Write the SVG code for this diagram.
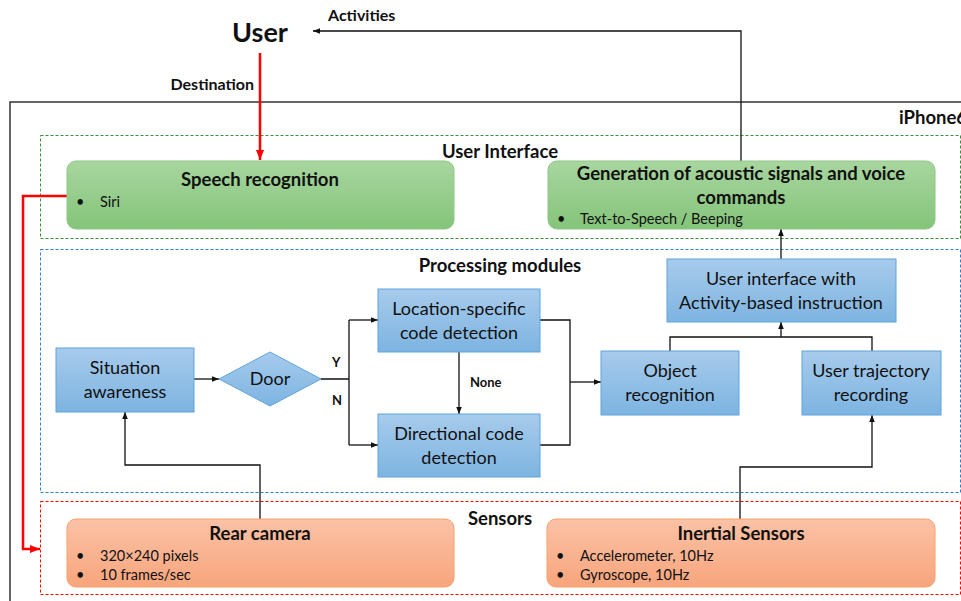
<svg xmlns="http://www.w3.org/2000/svg" width="961" height="601" viewBox="0 0 961 601">
  <defs>
    <linearGradient id="gBlue" x1="0" y1="0" x2="0" y2="1">
      <stop offset="0" stop-color="#a7cbec"/>
      <stop offset="1" stop-color="#7db4e1"/>
    </linearGradient>
    <linearGradient id="gGreen" x1="0" y1="0" x2="0" y2="1">
      <stop offset="0" stop-color="#a8d69f"/>
      <stop offset="1" stop-color="#84c47a"/>
    </linearGradient>
    <linearGradient id="gOrange" x1="0" y1="0" x2="0" y2="1">
      <stop offset="0" stop-color="#fbc2a6"/>
      <stop offset="1" stop-color="#f8a57c"/>
    </linearGradient>
    <marker id="arrK" viewBox="0 0 10 10" refX="10" refY="5" markerWidth="7" markerHeight="7" orient="auto" markerUnits="userSpaceOnUse">
      <path d="M0,1 L10,5 L0,9 Z" fill="#111"/>
    </marker>
    <marker id="arrR" viewBox="0 0 10 10" refX="10" refY="5" markerWidth="10" markerHeight="10" orient="auto" markerUnits="userSpaceOnUse">
      <path d="M0,1 L10,5 L0,9 Z" fill="#ff0000"/>
    </marker>
  </defs>
  <style>
    text { font-family: Lato, "Liberation Sans", sans-serif; fill: #111; }
    .b { font-weight: bold; }
    .hd { font-size: 18.5px; font-weight: bold; text-anchor: middle; }
    .lbl { font-size: 16px; font-weight: bold; }
    .nt { font-size: 18px; text-anchor: middle; }
    .bul { font-size: 14.5px; }
    .blue { fill: url(#gBlue); stroke: #5fa3dc; stroke-width: 1; }
    .green { fill: url(#gGreen); stroke: #8cc883; stroke-width: 1; }
    .orange { fill: url(#gOrange); stroke: #f4a06c; stroke-width: 1; }
    .zone { fill: none; stroke-width: 1; stroke-dasharray: 3 2; }
    .wire { fill: none; stroke: #111; stroke-width: 1.3; }
    .red { fill: none; stroke: #ff0000; stroke-width: 2.5; }
  </style>
  <rect width="961" height="601" fill="#fff"/>

  <!-- device frame -->
  <g id="iphone">
    <path d="M10,601 V102 H961" fill="none" stroke="#333" stroke-width="1.5"/>
    <text x="899" y="124" class="b" font-size="18.5">iPhone6</text>
  </g>

  <!-- zones -->
  <g id="zone-ui">
    <rect x="40.5" y="135.5" width="920" height="103" class="zone" stroke="#3b8f3b"/>
    <text x="500" y="158" class="hd">User Interface</text>
  </g>
  <g id="zone-proc">
    <rect x="40.5" y="249.5" width="920" height="243" class="zone" stroke="#2e80d0"/>
    <text x="500" y="272" class="hd">Processing modules</text>
  </g>
  <g id="zone-sensors">
    <rect x="40.5" y="501.5" width="920" height="93" class="zone" stroke="#ff0000"/>
    <text x="500" y="525" class="hd">Sensors</text>
  </g>

  <!-- user -->
  <g id="user">
    <text x="260" y="42" class="b" font-size="27" text-anchor="middle">User</text>
  </g>

  <!-- connectors -->
  <g id="connectors">
    <path d="M741,161 V31 H313" class="wire" marker-end="url(#arrK)"/>
    <text x="328" y="21" class="lbl">Activities</text>
    <path d="M260,53 V160" class="red" marker-end="url(#arrR)"/>
    <text x="254" y="90" class="lbl" text-anchor="end">Destination</text>
    <path d="M67,196 H23 V549 H40" class="red" marker-end="url(#arrR)"/>

    <path d="M194,379 H219" class="wire" marker-end="url(#arrK)"/>
    <path d="M321,379 H349 M349,320 V445" class="wire"/>
    <path d="M349,320 H378" class="wire" marker-end="url(#arrK)"/>
    <path d="M349,445 H378" class="wire" marker-end="url(#arrK)"/>
    <text x="332" y="367" class="b" font-size="13">Y</text>
    <text x="332" y="405" class="b" font-size="13">N</text>

    <path d="M459,352 V414" class="wire" marker-end="url(#arrK)"/>
    <text x="470" y="387" class="b" font-size="13">None</text>

    <path d="M540,320 H570 V445 H540" class="wire"/>
    <path d="M570,382 H601" class="wire" marker-end="url(#arrK)"/>

    <path d="M670,351 V337 H872 V351" class="wire"/>
    <path d="M781,337 V322" class="wire" marker-end="url(#arrK)"/>
    <path d="M781,259 V229" class="wire" marker-end="url(#arrK)"/>

    <path d="M260,519 V465 H125 V412" class="wire" marker-end="url(#arrK)"/>
    <path d="M740,519 V467 H872 V415" class="wire" marker-end="url(#arrK)"/>
  </g>

  <!-- user interface nodes -->
  <g id="speech">
    <rect x="67" y="161" width="387" height="68" rx="9" class="green"/>
    <text x="260" y="186" class="hd">Speech recognition</text>
    <text x="76" y="207" class="bul">•</text>
    <text x="100" y="207" class="bul">Siri</text>
  </g>
  <g id="acoustic">
    <rect x="548" y="161" width="387" height="68" rx="9" class="green"/>
    <text x="741" y="180" class="hd">Generation of acoustic signals and voice</text>
    <text x="741" y="204" class="hd">commands</text>
    <text x="557" y="224" class="bul">•</text>
    <text x="580" y="224" class="bul">Text-to-Speech / Beeping</text>
  </g>

  <!-- processing nodes -->
  <g id="situation">
    <rect x="56" y="348" width="138" height="64" class="blue"/>
    <text x="125" y="374" class="nt">Situation</text>
    <text x="125" y="398" class="nt">awareness</text>
  </g>
  <g id="door">
    <polygon points="219,379 270,352 321,379 270,406" class="blue"/>
    <text x="270" y="385" class="nt" font-size="16.5">Door</text>
  </g>
  <g id="location">
    <rect x="378" y="289" width="162" height="63" class="blue"/>
    <text x="459" y="315" class="nt">Location-specific</text>
    <text x="459" y="339" class="nt">code detection</text>
  </g>
  <g id="directional">
    <rect x="378" y="414" width="162" height="63" class="blue"/>
    <text x="459" y="440" class="nt">Directional code</text>
    <text x="459" y="464" class="nt">detection</text>
  </g>
  <g id="object">
    <rect x="601" y="351" width="138" height="64" class="blue"/>
    <text x="670" y="377" class="nt">Object</text>
    <text x="670" y="401" class="nt">recognition</text>
  </g>
  <g id="trajectory">
    <rect x="802" y="351" width="139" height="64" class="blue"/>
    <text x="871" y="377" class="nt">User trajectory</text>
    <text x="871" y="401" class="nt">recording</text>
  </g>
  <g id="ui-instruction">
    <rect x="667" y="259" width="229" height="63" class="blue"/>
    <text x="781" y="285" class="nt">User interface with</text>
    <text x="781" y="309" class="nt">Activity-based instruction</text>
  </g>

  <!-- sensor nodes -->
  <g id="camera">
    <rect x="67" y="519" width="387" height="68" rx="9" class="orange"/>
    <text x="260" y="540" class="hd">Rear camera</text>
    <text x="76" y="561" class="bul">•</text>
    <text x="100" y="561" class="bul">320×240 pixels</text>
    <text x="76" y="580" class="bul">•</text>
    <text x="100" y="580" class="bul">10 frames/sec</text>
  </g>
  <g id="inertial">
    <rect x="547" y="519" width="388" height="68" rx="9" class="orange"/>
    <text x="741" y="540" class="hd">Inertial Sensors</text>
    <text x="556" y="561" class="bul">•</text>
    <text x="580" y="561" class="bul">Accelerometer, 10Hz</text>
    <text x="556" y="580" class="bul">•</text>
    <text x="580" y="580" class="bul">Gyroscope, 10Hz</text>
  </g>
</svg>
